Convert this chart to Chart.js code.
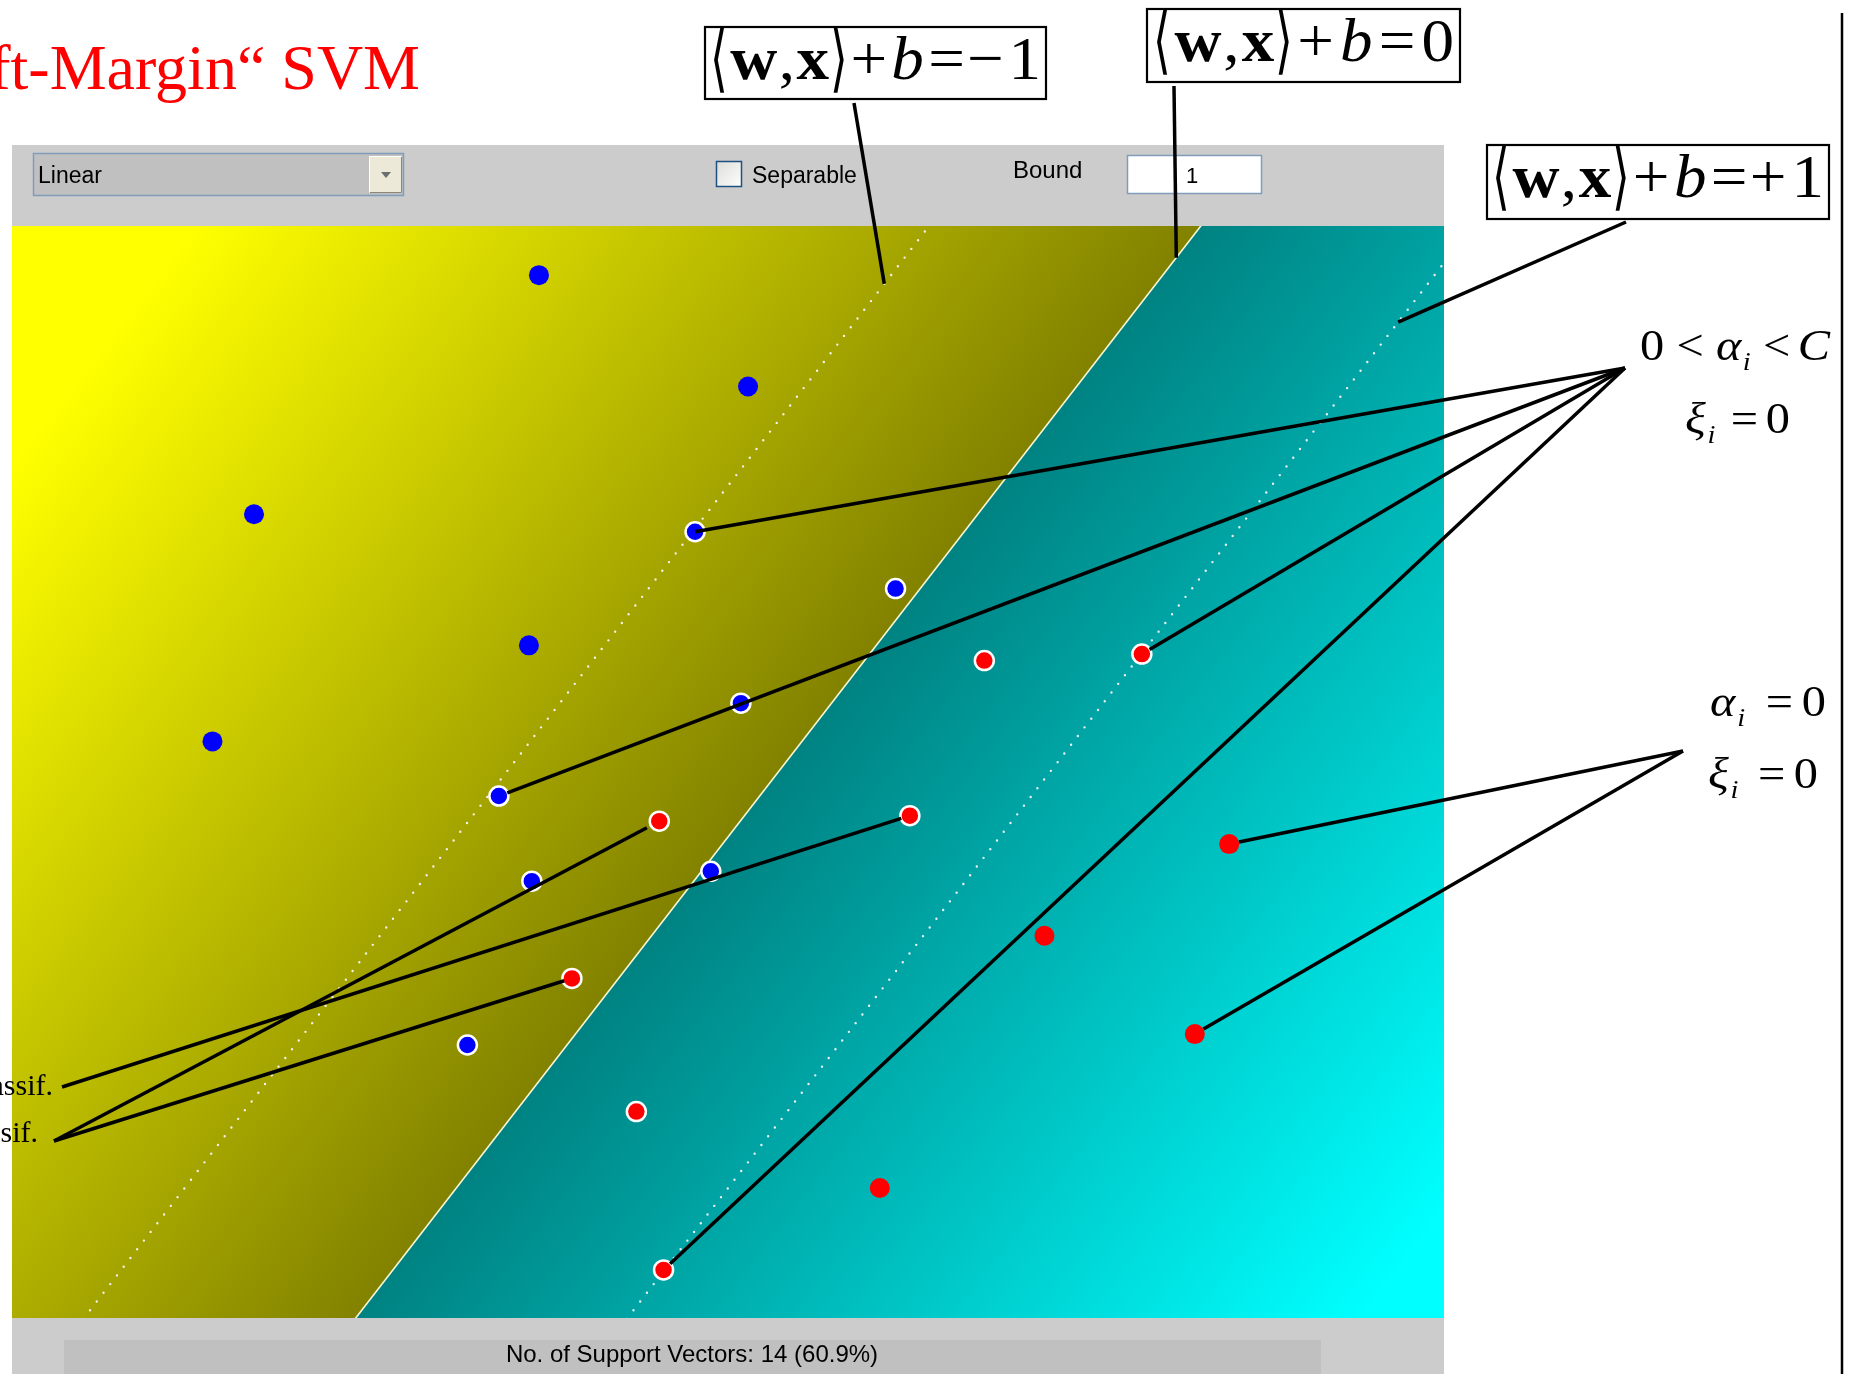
<!DOCTYPE html>
<html>
<head>
<meta charset="utf-8">
<title>Soft-Margin SVM</title>
<style>
  html, body { margin: 0; padding: 0; background: #ffffff; overflow: hidden; }
  canvas { display: block; }
</style>
<script src="https://cdn.jsdelivr.net/npm/chart.js@4.4.1/dist/chart.umd.min.js"></script>
</head>
<body>
<canvas id="svm" width="1854" height="1374"></canvas>
<script>
// ---- training data (feature space scaled to [0,1] x [0,1]) ----
// class -1 (blue)
const blueX  = [0.368, 0.514, 0.169, 0.477, 0.617, 0.361, 0.509, 0.140, 0.340, 0.363, 0.488, 0.318];
const blueY  = [0.955, 0.853, 0.736, 0.720, 0.668, 0.616, 0.563, 0.528, 0.478, 0.400, 0.409, 0.250];
const blueSV = [0, 0, 0, 1, 1, 0, 1, 0, 1, 1, 1, 1];
// class +1 (red)
const redX   = [0.679, 0.789, 0.452, 0.627, 0.850, 0.721, 0.391, 0.826, 0.436, 0.606, 0.455];
const redY   = [0.602, 0.608, 0.455, 0.460, 0.434, 0.350, 0.311, 0.260, 0.189, 0.119, 0.044];
const redSV  = [1, 1, 1, 1, 0, 0, 1, 0, 1, 0, 1];

// ---- decision function f(x) = <w,x> + b ----
const weights = [5.27, -3.11];
const bias = -1.265;
const levels = [-1, 0, 1];

// ---- widget texts ----
const titleText = '\u201ESoft-Margin\u201C SVM';
const kernelText = 'Linear';
const separableText = 'Separable';
const boundText = 'Bound';
const boundValue = '1';

const SERIF = '"Liberation Serif", "Times New Roman", serif';
const SANS = '"Liberation Sans", Arial, sans-serif';

// x position of the level line f = L at height y
function xAt(L, y) { return (L - bias - weights[1] * y) / weights[0]; }

function pts(xs, ys, sv, want) {
  const out = [];
  xs.forEach((x, i) => { if (sv[i] === want) out.push({ x: x, y: ys[i] }); });
  return out;
}
function levelLine(L) {
  return [{ x: xAt(L, -0.2), y: -0.2 }, { x: xAt(L, 1.2), y: 1.2 }];
}

const nSV = blueSV.concat(redSV).filter(v => v).length;
const nAll = blueX.length + redX.length;
const statusText = 'No. of Support Vectors: ' + nSV + ' (' + (100 * nSV / nAll).toFixed(1) + '%)';

// ---- equation rendering helper: runs of serif text fitted into a width ----
function drawEq(ctx, runs, left, base, size, width, hs) {
  const fontOf = r => (r.it ? 'italic ' : '') + (r.bd ? 'bold ' : '') +
    Math.round(size * (r.sc || 1)) + 'px ' + SERIF;
  let nat = 0, gw = 0;
  runs.forEach(r => {
    ctx.font = fontOf(r);
    r._w = ctx.measureText(r.t).width * hs * (r.sx || 1);
    nat += r._w; gw += (r.g || 0);
  });
  const unit = gw ? (width - nat) / gw : 0;
  let cx = left;
  ctx.fillStyle = '#000';
  ctx.textAlign = 'left';
  ctx.textBaseline = 'alphabetic';
  runs.forEach(r => {
    cx += (r.g || 0) * unit;
    ctx.save();
    ctx.font = fontOf(r);
    ctx.translate(cx, base + (r.dy || 0) * size);
    ctx.scale(hs * (r.sx || 1), r.sy || 1);
    ctx.fillText(r.t, 0, 0);
    ctx.restore();
    cx += r._w;
  });
}
function eqRuns(rhs) {
  return [
    { t: '\u27E8', sx: 0.7, sy: 1.18, dy: 0.07 },
    { t: 'w', bd: 1, g: 0.5 },
    { t: ',', g: 0.25 },
    { t: 'x', bd: 1, g: 0.3 },
    { t: '\u27E9', sx: 0.7, sy: 1.18, dy: 0.07, g: 0.1 },
    { t: '+', g: 0.6 },
    { t: 'b', it: 1, g: 0.8 },
    { t: '=', g: 0.8 }
  ].concat(rhs);
}
const sub = (t) => ({ t: t, it: 1, sc: 0.58, dy: 0.22, g: 0.12 });

// ---- background: panels, widgets, decision-value shading ----
const panels = {
  id: 'panels',
  beforeDraw(chart) {
    const ctx = chart.ctx;
    const a = chart.chartArea;
    ctx.save();
    ctx.fillStyle = '#ffffff';
    ctx.fillRect(0, 0, chart.width, chart.height);

    // tool bar
    ctx.fillStyle = '#cccccc';
    ctx.fillRect(a.left, 145, a.right - a.left, a.top - 145);
    // kernel selector
    ctx.fillStyle = '#c0c0c0';
    ctx.fillRect(33, 153, 371, 43);
    ctx.strokeStyle = '#7f9db9'; ctx.lineWidth = 1.5;
    ctx.strokeRect(33.5, 153.5, 370, 42);
    ctx.fillStyle = '#ece9d8';
    ctx.fillRect(369, 156, 33, 37);
    ctx.strokeStyle = '#ffffff'; ctx.lineWidth = 1;
    ctx.beginPath(); ctx.moveTo(369.5, 192); ctx.lineTo(369.5, 156.5); ctx.lineTo(401, 156.5); ctx.stroke();
    ctx.strokeStyle = '#8a8778';
    ctx.beginPath(); ctx.moveTo(370, 192.5); ctx.lineTo(401.5, 192.5); ctx.lineTo(401.5, 157); ctx.stroke();
    ctx.fillStyle = '#6d6d6d';
    ctx.beginPath(); ctx.moveTo(381, 172); ctx.lineTo(391, 172); ctx.lineTo(386, 178); ctx.closePath(); ctx.fill();
    ctx.fillStyle = '#000';
    ctx.font = '23px ' + SANS;
    ctx.textBaseline = 'alphabetic';
    ctx.fillText(kernelText, 38, 183);
    // separable check box
    const cg = ctx.createLinearGradient(716, 161, 742, 187);
    cg.addColorStop(0, '#dcdcd7'); cg.addColorStop(1, '#ffffff');
    ctx.fillStyle = cg;
    ctx.fillRect(716, 161, 26, 26);
    ctx.strokeStyle = '#1c5180'; ctx.lineWidth = 1.5;
    ctx.strokeRect(716.5, 161.5, 25, 25);
    ctx.fillStyle = '#000';
    ctx.fillText(separableText, 752, 183);
    // bound field
    ctx.font = '24px ' + SANS;
    ctx.fillText(boundText, 1013, 178);
    ctx.fillStyle = '#ffffff';
    ctx.fillRect(1127, 155, 135, 39);
    ctx.strokeStyle = '#7f9db9'; ctx.lineWidth = 1.5;
    ctx.strokeRect(1127.5, 155.5, 134, 38);
    ctx.fillStyle = '#000';
    ctx.font = '22px ' + SANS;
    ctx.fillText(boundValue, 1186, 183);

    // status bar
    ctx.fillStyle = '#cccccc';
    ctx.fillRect(a.left, a.bottom, a.right - a.left, chart.height - a.bottom);
    ctx.fillStyle = '#c0c0c0';
    ctx.fillRect(64, 1340, 1257, chart.height - 1340);
    ctx.fillStyle = '#000';
    ctx.font = '24px ' + SANS;
    ctx.textAlign = 'center';
    ctx.fillText(statusText, 692, 1362);
    ctx.restore();
  },
  beforeDatasetsDraw(chart) {
    const ctx = chart.ctx;
    const a = chart.chartArea;
    const xs = chart.scales.x, ys = chart.scales.y;
    const sx = xs.getPixelForValue(1) - xs.getPixelForValue(0);
    const sy = ys.getPixelForValue(1) - ys.getPixelForValue(0);
    const gx = weights[0] / sx, gy = weights[1] / sy;
    const g2 = gx * gx + gy * gy;
    const px = xs.getPixelForValue(xAt(0, 0.5)), py = ys.getPixelForValue(0.5);
    const K = 3.7;
    const grad = ctx.createLinearGradient(px - gx * K / g2, py - gy * K / g2,
                                          px + gx * K / g2, py + gy * K / g2);
    grad.addColorStop(0, '#ffff00');
    grad.addColorStop(0.5, '#828200');
    grad.addColorStop(0.5, '#008282');
    grad.addColorStop(1, '#00ffff');
    ctx.save();
    ctx.fillStyle = grad;
    ctx.fillRect(a.left, a.top, a.right - a.left, a.bottom - a.top);
    ctx.restore();
  }
};

// ---- overlay: title, formula boxes, callout lines and labels ----
const overlay = {
  id: 'overlay',
  afterDraw(chart) {
    const ctx = chart.ctx;
    const xs = chart.scales.x, ys = chart.scales.y;
    const P = (x, y) => [xs.getPixelForValue(x), ys.getPixelForValue(y)];
    ctx.save();

    // title
    ctx.fillStyle = '#ff0000';
    ctx.font = '64px ' + SERIF;
    ctx.textAlign = 'right';
    ctx.textBaseline = 'alphabetic';
    ctx.fillText(titleText, 420, 89);

    // callout lines
    ctx.strokeStyle = '#000';
    ctx.lineWidth = 3.5;
    ctx.lineCap = 'butt';
    function lead(from, to, inset) {
      let [tx, ty] = to;
      if (inset) {
        const dx = from[0] - tx, dy = from[1] - ty, d = Math.hypot(dx, dy);
        tx += dx / d * inset; ty += dy / d * inset;
      }
      ctx.beginPath(); ctx.moveTo(from[0], from[1]); ctx.lineTo(tx, ty); ctx.stroke();
    }
    const blue = i => P(blueX[i], blueY[i]);
    const red = i => P(redX[i], redY[i]);
    const onLevel = (L, y) => P(xAt(L, y), y);

    lead([854, 103], onLevel(-1, 0.947), 0);
    lead([1174, 86], onLevel(0, 0.971), 0);
    lead([1626, 222], onLevel(1, 0.912), 0);

    const hubA = [1625, 368];
    lead(hubA, blue(3), 0);
    lead(hubA, blue(8), 9);
    lead(hubA, red(1), 9);
    lead(hubA, red(10), 9);

    const hubB = [1683, 751];
    lead(hubB, red(4), 10);
    lead(hubB, red(7), 10);

    lead([62, 1087], red(3), 9);
    lead([54, 1141], red(2), 14);
    lead([54, 1141], red(6), 8);

    // right-hand frame line
    ctx.lineWidth = 2.5;
    ctx.beginPath(); ctx.moveTo(1842, 13); ctx.lineTo(1842, chart.height); ctx.stroke();

    // formula boxes
    const boxes = [
      { r: [705, 27, 341, 72], left: 710, base: 79, w: 331,
        rhs: [{ t: '\u2212', g: 0.4 }, { t: '1', g: 0.9 }] },
      { r: [1147, 9, 313, 73], left: 1153, base: 61, w: 301,
        rhs: [{ t: '0', g: 0.8 }] },
      { r: [1487, 145, 342, 74], left: 1492, base: 197, w: 332,
        rhs: [{ t: '+', g: 0.4 }, { t: '1', g: 0.9 }] }
    ];
    boxes.forEach(b => {
      ctx.fillStyle = '#ffffff';
      ctx.fillRect(b.r[0], b.r[1], b.r[2], b.r[3]);
      ctx.strokeStyle = '#000'; ctx.lineWidth = 2.2;
      ctx.strokeRect(b.r[0], b.r[1], b.r[2], b.r[3]);
      drawEq(ctx, eqRuns(b.rhs), b.left, b.base, 62, b.w, 1.05);
    });

    // multiplier conditions
    drawEq(ctx, [{ t: '0' }, { t: '<', g: 1 }, { t: '\u03B1', it: 1, g: 1 }, sub('i'),
                 { t: '<', g: 1 }, { t: 'C', it: 1, g: 0.6 }], 1640, 360, 44, 190, 1.1);
    drawEq(ctx, [{ t: '\u03BE', it: 1 }, sub('i'), { t: '=', g: 1 }, { t: '0', g: 0.5 }],
           1685, 433, 44, 105, 1.1);
    drawEq(ctx, [{ t: '\u03B1', it: 1 }, sub('i'), { t: '=', g: 1.4 }, { t: '0', g: 0.6 }],
           1710, 716, 44, 116, 1.1);
    drawEq(ctx, [{ t: '\u03BE', it: 1 }, sub('i'), { t: '=', g: 1.4 }, { t: '0', g: 0.6 }],
           1708, 788, 44, 110, 1.1);

    // classification labels at the left border
    ctx.fillStyle = '#000';
    ctx.font = '30px ' + SERIF;
    ctx.textAlign = 'right';
    ctx.fillText('klassif.', 53, 1095);
    ctx.fillText('klassif.', 38, 1142);
    ctx.restore();
  }
};

const dotted = { borderColor: 'rgba(245,245,245,0.95)', borderWidth: 2.4,
                 borderDash: [0, 11], borderCapStyle: 'round' };

new Chart(document.getElementById('svm'), {
  type: 'scatter',
  data: {
    datasets: [
      { label: 'blue', data: pts(blueX, blueY, blueSV, 0), backgroundColor: '#0000ff',
        pointRadius: 10, borderWidth: 0, order: 1 },
      { label: 'blue SV', data: pts(blueX, blueY, blueSV, 1), backgroundColor: '#0000ff',
        pointRadius: 9.5, borderColor: '#ffffff', borderWidth: 2.5, order: 1 },
      { label: 'red', data: pts(redX, redY, redSV, 0), backgroundColor: '#ff0000',
        pointRadius: 10, borderWidth: 0, order: 1 },
      { label: 'red SV', data: pts(redX, redY, redSV, 1), backgroundColor: '#ff0000',
        pointRadius: 9.5, borderColor: '#ffffff', borderWidth: 2.5, order: 1 },
      Object.assign({ label: 'f = -1', data: levelLine(levels[0]), showLine: true,
        pointRadius: 0, order: 2 }, dotted),
      { label: 'f = 0', data: levelLine(levels[1]), showLine: true, pointRadius: 0,
        borderColor: 'rgba(255,255,225,0.95)', borderWidth: 1.6, order: 2 },
      Object.assign({ label: 'f = +1', data: levelLine(levels[2]), showLine: true,
        pointRadius: 0, order: 2 }, dotted)
    ]
  },
  options: {
    responsive: false,
    animation: false,
    devicePixelRatio: 1,
    events: [],
    layout: { padding: { left: 11, top: 226, right: 410, bottom: 56 } },
    scales: {
      x: { type: 'linear', min: 0, max: 1, display: false },
      y: { type: 'linear', min: 0, max: 1, display: false }
    },
    plugins: { legend: { display: false }, tooltip: { enabled: false } }
  },
  plugins: [panels, overlay]
});
</script>
</body>
</html>
